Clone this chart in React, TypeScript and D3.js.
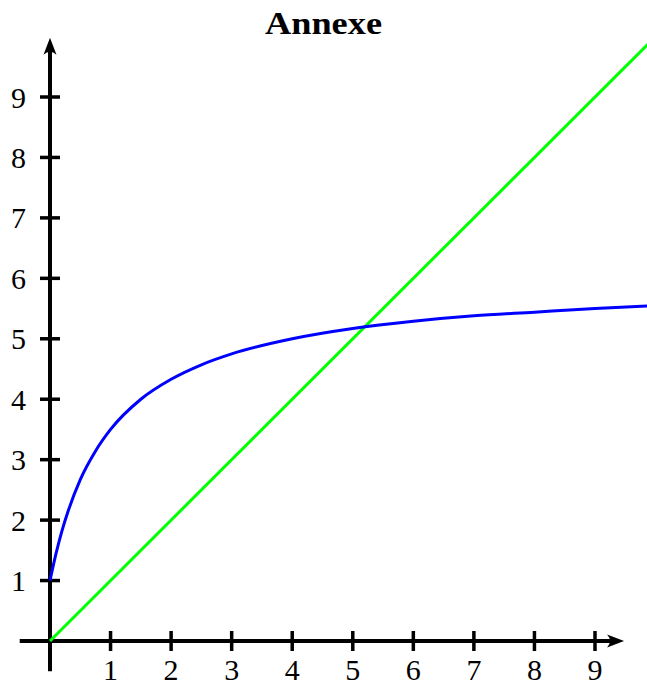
import * as d3 from "d3"

// values
const ticks = [1, 2, 3, 4, 5, 6, 7, 8, 9]
const blueX = [0, 0.1, 0.2, 0.3, 0.5, 0.75, 1, 1.5, 2, 2.5, 3, 4, 5, 6, 7, 8, 9, 10]
const blueY = [1, 1.45, 1.83, 2.15, 2.67, 3.14, 3.5, 4.0, 4.33, 4.57, 4.75, 5.0, 5.17, 5.29, 5.38, 5.44, 5.5, 5.55]
const greenX = [0, 10]
const greenY = [0, 10]
const title = "Annexe"

const W = 647
const H = 687
const FONT = "'Liberation Serif', 'DejaVu Serif', serif"

export default function App() {
  const x = d3.scaleLinear().domain([0, 9]).range([50, 595])
  const y = d3.scaleLinear().domain([0, 9]).range([641, 97])

  const line = d3
    .line<[number, number]>()
    .x((d) => x(d[0]))
    .y((d) => y(d[1]))

  const blue = line.curve(d3.curveMonotoneX)(blueX.map((v, i) => [v, blueY[i]]))
  const green = d3
    .line<[number, number]>()
    .x((d) => x(d[0]))
    .y((d) => y(d[1]))(greenX.map((v, i) => [v, greenY[i]]))

  const x0 = x(0)
  const y0 = y(0)
  const xEnd = x(9.48)
  const yEnd = y(9.98)

  return (
    <svg
      width={W}
      height={H}
      style={{ position: "absolute", left: 0, top: 0, background: "#fff" }}
    >
      <text
        x={323.5}
        y={34}
        textAnchor="middle"
        fontFamily={FONT}
        fontWeight="bold"
        fontSize={32}
        textLength={117}
        lengthAdjust="spacingAndGlyphs"
      >
        {title}
      </text>

      {/* axes */}
      <line x1={x(-0.5)} x2={xEnd - 8} y1={y0} y2={y0} stroke="#000" strokeWidth={4} />
      <line x1={x0} x2={x0} y1={y(-0.5)} y2={yEnd + 8} stroke="#000" strokeWidth={4} />
      <path
        d={`M${xEnd},${y0} L${xEnd - 17},${y0 - 6.5} Q${xEnd - 11},${y0} ${xEnd - 17},${y0 + 6.5} Z`}
        fill="#000"
      />
      <path
        d={`M${x0},${yEnd} L${x0 - 6.5},${yEnd + 17} Q${x0},${yEnd + 11} ${x0 + 6.5},${yEnd + 17} Z`}
        fill="#000"
      />

      {ticks.map((t) => (
        <g key={"x" + t}>
          <line x1={x(t)} x2={x(t)} y1={y0 - 10} y2={y0 + 10} stroke="#000" strokeWidth={3.5} />
          <text x={x(t)} y={680} textAnchor="middle" fontFamily={FONT} fontSize={30}>
            {t}
          </text>
        </g>
      ))}
      {ticks.map((t) => (
        <g key={"y" + t}>
          <line x1={x0 - 10} x2={x0 + 10} y1={y(t)} y2={y(t)} stroke="#000" strokeWidth={3.5} />
          <text
            x={26}
            y={y(t)}
            dy="0.35em"
            textAnchor="end"
            fontFamily={FONT}
            fontSize={30}
          >
            {t}
          </text>
        </g>
      ))}

      {/* curves */}
      <path d={green ?? ""} fill="none" stroke="#00ff00" strokeWidth={3} />
      <path d={blue ?? ""} fill="none" stroke="#0000ff" strokeWidth={3} />
    </svg>
  )
}
